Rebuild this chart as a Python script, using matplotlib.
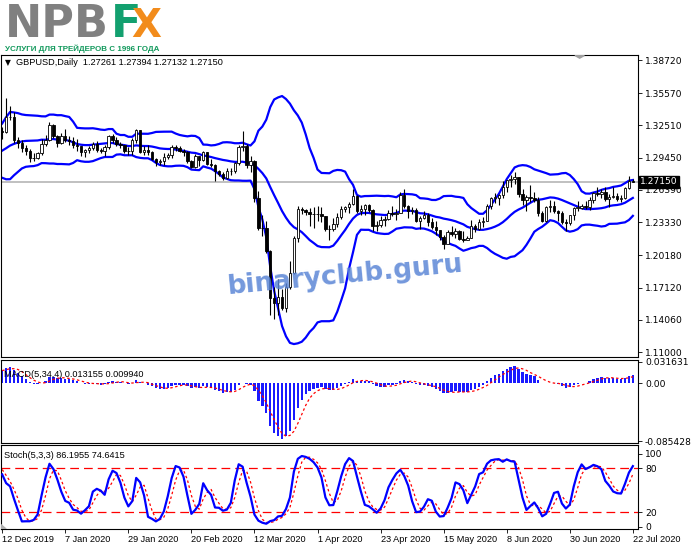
import numpy as np
import pandas as pd
import matplotlib.pyplot as plt
from matplotlib.patches import Polygon

# earlier bars (not shown), only used so the indicators have history
pre_close = [1.2660, 1.2770, 1.2890, 1.2985, 1.2975, 1.2865, 1.2880, 1.2830, 1.2830, 1.2855,
             1.2855, 1.2945, 1.2945, 1.2940, 1.2895, 1.2875, 1.2875, 1.2795, 1.2775, 1.2855,
             1.2855, 1.2855, 1.2895, 1.2910, 1.2960, 1.2935, 1.2940, 1.2910, 1.2830, 1.2865,
             1.2860, 1.2925, 1.2925, 1.2930, 1.2940, 1.2955, 1.3130, 1.3140, 1.3150, 1.3170,
             1.3150, 1.3200]
pre_high = [1.2710, 1.2840, 1.2990, 1.3010, 1.3015, 1.3010, 1.2915, 1.2905, 1.2860, 1.2890,
            1.2880, 1.2955, 1.2975, 1.2990, 1.2965, 1.2945, 1.2890, 1.2895, 1.2825, 1.2880,
            1.2895, 1.2885, 1.2905, 1.2935, 1.2985, 1.2975, 1.2950, 1.2975, 1.2925, 1.2885,
            1.2905, 1.2945, 1.2940, 1.2945, 1.2985, 1.3000, 1.3145, 1.3165, 1.3180, 1.3215,
            1.3215, 1.3230]
pre_low = [1.2610, 1.2615, 1.2750, 1.2850, 1.2915, 1.2830, 1.2810, 1.2810, 1.2800, 1.2815,
           1.2825, 1.2845, 1.2875, 1.2920, 1.2875, 1.2860, 1.2840, 1.2770, 1.2765, 1.2770,
           1.2825, 1.2825, 1.2835, 1.2875, 1.2890, 1.2895, 1.2880, 1.2895, 1.2820, 1.2815,
           1.2845, 1.2845, 1.2895, 1.2885, 1.2895, 1.2915, 1.2950, 1.3095, 1.3110, 1.3130,
           1.3120, 1.3110]
first_open = 1.2615

# visible bars, 12 Dec 2019 .. 22 Jul 2020
close = [1.3185, 1.3330, 1.3335, 1.3110, 1.3080, 1.3035, 1.3010, 1.2945, 1.2940, 1.2985,
         1.3075, 1.3115, 1.3260, 1.3150, 1.3080, 1.3155, 1.3110, 1.3100, 1.3065, 1.3060,
         1.2995, 1.3020, 1.3035, 1.3075, 1.3015, 1.3005, 1.3045, 1.3150, 1.3115, 1.3075,
         1.3070, 1.3005, 1.3010, 1.3110, 1.3205, 1.3000, 1.3020, 1.2995, 1.2935, 1.2900,
         1.2915, 1.2950, 1.2970, 1.3050, 1.3040, 1.3010, 1.2995, 1.2915, 1.2860, 1.2960,
         1.2920, 1.2995, 1.2885, 1.2880, 1.2820, 1.2790, 1.2750, 1.2815, 1.2820, 1.2890,
         1.3050, 1.3060, 1.2880, 1.2910, 1.2565, 1.2275, 1.2280, 1.2055, 1.1610, 1.1565,
         1.1620, 1.1520, 1.1720, 1.1850, 1.2185, 1.2460, 1.2445, 1.2430, 1.2410, 1.2410,
         1.2415, 1.2390, 1.2265, 1.2265, 1.2315, 1.2380, 1.2460, 1.2475, 1.2510, 1.2580,
         1.2440, 1.2460, 1.2500, 1.2450, 1.2300, 1.2310, 1.2350, 1.2365, 1.2420, 1.2410,
         1.2420, 1.2590, 1.2490, 1.2435, 1.2445, 1.2340, 1.2370, 1.2405, 1.2330, 1.2290,
         1.2255, 1.2195, 1.2125, 1.2235, 1.2225, 1.2245, 1.2170, 1.2165, 1.2185, 1.2295,
         1.2265, 1.2330, 1.2340, 1.2485, 1.2565, 1.2565, 1.2590, 1.2670, 1.2730, 1.2740,
         1.2760, 1.2600, 1.2545, 1.2570, 1.2560, 1.2545, 1.2420, 1.2345, 1.2475, 1.2490,
         1.2440, 1.2420, 1.2335, 1.2325, 1.2400, 1.2470, 1.2470, 1.2485, 1.2475, 1.2540,
         1.2610, 1.2600, 1.2615, 1.2550, 1.2570, 1.2580, 1.2550, 1.2565, 1.2655, 1.2725,
         1.27150]
high = [1.3240, 1.3514, 1.3440, 1.3375, 1.3140, 1.3115, 1.3070, 1.3025, 1.2990, 1.3000,
        1.3120, 1.3160, 1.3285, 1.3265, 1.3165, 1.3175, 1.3215, 1.3155, 1.3140, 1.3120,
        1.3060, 1.3030, 1.3055, 1.3095, 1.3105, 1.3040, 1.3070, 1.3165, 1.3170, 1.3145,
        1.3095, 1.3070, 1.3045, 1.3130, 1.3215, 1.3210, 1.3055, 1.3070, 1.3010, 1.2945,
        1.2935, 1.2985, 1.2990, 1.3070, 1.3070, 1.3055, 1.3030, 1.3010, 1.2925, 1.2980,
        1.2955, 1.3010, 1.2995, 1.2935, 1.2885, 1.2825, 1.2810, 1.2845, 1.2850, 1.2900,
        1.3070, 1.3200, 1.3075, 1.2960, 1.2920, 1.2630, 1.2405, 1.2345, 1.2065, 1.1720,
        1.1790, 1.1700, 1.1760, 1.1965, 1.2205, 1.2485, 1.2475, 1.2460, 1.2465, 1.2480,
        1.2490, 1.2475, 1.2395, 1.2310, 1.2375, 1.2420, 1.2485, 1.2490, 1.2525, 1.2645,
        1.2595, 1.2495, 1.2510, 1.2510, 1.2455, 1.2345, 1.2390, 1.2395, 1.2450, 1.2485,
        1.2460, 1.2615, 1.2645, 1.2495, 1.2475, 1.2470, 1.2395, 1.2440, 1.2420, 1.2375,
        1.2345, 1.2255, 1.2210, 1.2260, 1.2295, 1.2275, 1.2255, 1.2245, 1.2200, 1.2350,
        1.2315, 1.2365, 1.2385, 1.2510, 1.2575, 1.2610, 1.2600, 1.2720, 1.2735, 1.2780,
        1.2810, 1.2765, 1.2650, 1.2590, 1.2690, 1.2620, 1.2575, 1.2435, 1.2490, 1.2545,
        1.2530, 1.2450, 1.2435, 1.2360, 1.2405, 1.2480, 1.2530, 1.2505, 1.2535, 1.2570,
        1.2615, 1.2670, 1.2650, 1.2665, 1.2600, 1.2665, 1.2610, 1.2590, 1.2670, 1.2770,
        1.27394]
low = [1.3120, 1.3180, 1.3300, 1.3080, 1.3040, 1.3000, 1.2975, 1.2905, 1.2915, 1.2930,
       1.2975, 1.3060, 1.3100, 1.3130, 1.3045, 1.3075, 1.3095, 1.3065, 1.3035, 1.3010,
       1.2960, 1.2955, 1.2990, 1.3020, 1.2995, 1.2990, 1.2960, 1.3025, 1.3080, 1.3055,
       1.3035, 1.2990, 1.2970, 1.2975, 1.3080, 1.2985, 1.2975, 1.2975, 1.2920, 1.2870,
       1.2875, 1.2880, 1.2930, 1.2940, 1.3010, 1.2995, 1.2960, 1.2895, 1.2850, 1.2850,
       1.2870, 1.2910, 1.2880, 1.2855, 1.2725, 1.2770, 1.2735, 1.2740, 1.2780, 1.2800,
       1.2880, 1.3010, 1.2850, 1.2810, 1.2525, 1.2255, 1.2200, 1.2040, 1.1450, 1.1410,
       1.1455, 1.1500, 1.1480, 1.1700, 1.1840, 1.2145, 1.2410, 1.2400, 1.2300, 1.2275,
       1.2345, 1.2335, 1.2250, 1.2165, 1.2250, 1.2285, 1.2365, 1.2430, 1.2420, 1.2495,
       1.2420, 1.2405, 1.2400, 1.2425, 1.2250, 1.2245, 1.2285, 1.2300, 1.2355, 1.2395,
       1.2355, 1.2420, 1.2465, 1.2375, 1.2410, 1.2330, 1.2265, 1.2365, 1.2295, 1.2265,
       1.2210, 1.2165, 1.2075, 1.2125, 1.2200, 1.2185, 1.2160, 1.2145, 1.2160, 1.2185,
       1.2235, 1.2255, 1.2290, 1.2340, 1.2460, 1.2515, 1.2495, 1.2565, 1.2620, 1.2665,
       1.2700, 1.2570, 1.2495, 1.2440, 1.2525, 1.2520, 1.2395, 1.2335, 1.2330, 1.2425,
       1.2420, 1.2345, 1.2315, 1.2250, 1.2305, 1.2350, 1.2440, 1.2455, 1.2460, 1.2450,
       1.2515, 1.2580, 1.2560, 1.2535, 1.2480, 1.2560, 1.2535, 1.2525, 1.2555, 1.2645,
       1.27132]
last_open = 1.27261

date_labels = ["12 Dec 2019", "7 Jan 2020", "29 Jan 2020", "20 Feb 2020", "12 Mar 2020",
               "1 Apr 2020", "23 Apr 2020", "15 May 2020", "8 Jun 2020", "30 Jun 2020",
               "22 Jul 2020"]
price_ticks = [1.38720, 1.35570, 1.32510, 1.29450, 1.26390, 1.23330, 1.20180, 1.17120,
               1.14060, 1.11000]

# ---- indicators (MT4 style) ----
c_all = pd.Series(pre_close + close)
h_all = pd.Series(pre_high + high)
l_all = pd.Series(pre_low + low)
o_all = np.r_[first_open, c_all.values[:-1]]
o_all[-1] = last_open

bb_period = 17
mid = c_all.rolling(bb_period).mean()
sd = c_all.rolling(bb_period).std(ddof=0)
upper, lower = mid + 2 * sd, mid - 2 * sd

macd = c_all.ewm(span=5, adjust=False).mean() - c_all.ewm(span=34, adjust=False).mean()
signal = macd.rolling(4).mean()

hh = h_all.rolling(5).max()
ll = l_all.rolling(5).min()
k = 100 * (c_all - ll).rolling(3).sum() / (hh - ll).rolling(3).sum()
d = k.rolling(3).mean()

npre = len(pre_close)
n = len(close)
x = np.arange(n)
sl = slice(npre, npre + n)
O, Hh, L, C = o_all[sl], h_all.values[sl], l_all.values[sl], c_all.values[sl]

# ---- figure ----
W, H = 691, 549
fig = plt.figure(figsize=(W / 100, H / 100), dpi=100)
plt.rcParams['font.family'] = ['DejaVu Sans']
small = ['Liberation Sans', 'DejaVu Sans']


def box(x0, y0, x1, y1):
    return [x0 / W, 1 - y1 / H, (x1 - x0) / W, (y1 - y0) / H]


xlim = (-0.3, 161.3)
blue = "#0000ff"

ax = fig.add_axes(box(1, 55, 638, 357))
ax2 = fig.add_axes(box(1, 360, 638, 443))
ax3 = fig.add_axes(box(1, 445, 638, 529))

for a in (ax, ax2, ax3):
    a.set_xlim(*xlim)
    for s in a.spines.values():
        s.set_linewidth(0.8)
    a.yaxis.tick_right()
    a.tick_params(axis='y', direction='out', length=3, width=0.6, labelsize=6.6, pad=2)
    a.set_xticks([])

# main chart
ax.set_ylim(1.1053, 1.3920)
ax.axhline(1.27150, color="#c0c0c0", lw=1.4, zorder=1)
ax.plot(x, upper.values[sl], color=blue, lw=1.6, zorder=2)
ax.plot(x, mid.values[sl], color=blue, lw=1.6, zorder=2)
ax.plot(x, lower.values[sl], color=blue, lw=1.6, zorder=2)
ax.vlines(x, L, Hh, color="black", lw=0.8, zorder=3)
bull = C >= O
body = np.abs(C - O)
body = np.where(body < 0.0003, 0.0003, body)
ax.bar(x, body, bottom=np.minimum(O, C), width=0.62,
       color=np.where(bull, "white", "black"), edgecolor="black", linewidth=0.6, zorder=4)
ax.set_yticks(price_ticks)
ax.set_yticklabels([f"{v:.5f}" for v in price_ticks])
ax.text(1.5, 1.3852, "▼", fontsize=5.5, va="center", ha="center")
ax.text(3.5, 1.3852, "GBPUSD,Daily  1.27261 1.27394 1.27132 1.27150",
        fontsize=6.6, family=small, va="center", ha="left")
ax.text(1.003, 1.27150, "1.27150", transform=ax.get_yaxis_transform(), fontsize=6.6,
        color="white", va="center", ha="left",
        bbox=dict(boxstyle="square,pad=0.15", fc="black", ec="black"))
ax.add_patch(Polygon([[145.3, 1.3915], [147.7, 1.3915], [146.5, 1.3890]], closed=True,
                     color="#a0a0a0", zorder=5))
ax.text(0.54, 0.27, "binaryclub.guru", transform=ax.transAxes, fontsize=19,
        fontweight="bold", color="#5b86d6", alpha=0.85,
        rotation=5.5, ha="center", va="center", zorder=6)

# MACD
m = macd.values[sl]
ax2.set_ylim(-0.0883, 0.0345)
ax2.bar(x, m, width=0.6, color="#1a1aff", zorder=2)
ax2.plot(x, signal.values[sl], color="red", lw=0.9, ls=(0, (2, 2)), zorder=3)
ax2.set_yticks([0.031631, 0.0, -0.085428])
ax2.set_yticklabels(["0.031631", "0.00", "-0.085428"])
ax2.text(0.005, 0.83, "MACD(5,34,4) 0.013155 0.009940", transform=ax2.transAxes,
         fontsize=6.6, family=small, va="center", ha="left", zorder=5)

# Stochastic
ax3.set_ylim(-3, 112)
ax3.axhline(80, color="red", lw=0.9, ls=(0, (7, 4)))
ax3.axhline(20, color="red", lw=0.9, ls=(0, (7, 4)))
ax3.plot(x, d.values[sl], color="red", lw=0.9, ls=(0, (2, 2)), zorder=2)
ax3.plot(x, k.values[sl], color=blue, lw=1.6, zorder=3)
ax3.set_yticks([100, 80, 20, 0])
ax3.set_yticklabels(["100", "80", "20", "0"])
ax3.text(0.005, 0.88, "Stoch(5,3,3) 86.1955 74.6415", transform=ax3.transAxes,
         fontsize=6.6, family=small, va="center", ha="left", zorder=5)
ax3.add_patch(Polygon([[-0.3, -3], [-0.3, 3], [1.0, -3]], closed=True,
                      color="#b0b0b0", zorder=5))
ticks = np.arange(0, 161, 16)
ax3.set_xticks(ticks)
ax3.set_xticklabels(date_labels, ha="left", family=small)
ax3.tick_params(axis='x', direction='out', length=3, width=0.6, labelsize=6.6, pad=1)

# logo
fig.text(5 / W, 1 - 37 / H, "NPB", fontsize=32, fontweight="heavy", color="#808080",
         ha="left", va="baseline")
fig.text(111 / W, 1 - 37 / H, "F", fontsize=32, fontweight="heavy", color="#13a06f",
         ha="left", va="baseline")
fig.text(131 / W, 1 - 37 / H, "X", fontsize=28, fontweight="heavy", color="#f28c1c",
         ha="left", va="baseline")
fig.text(5 / W, 1 - 51 / H, "УСЛУГИ ДЛЯ ТРЕЙДЕРОВ С 1996 ГОДА", fontsize=5.8,
         fontweight="bold", family=small, color="#12995c", ha="left", va="baseline")

fig.savefig("out.png", dpi=100)
